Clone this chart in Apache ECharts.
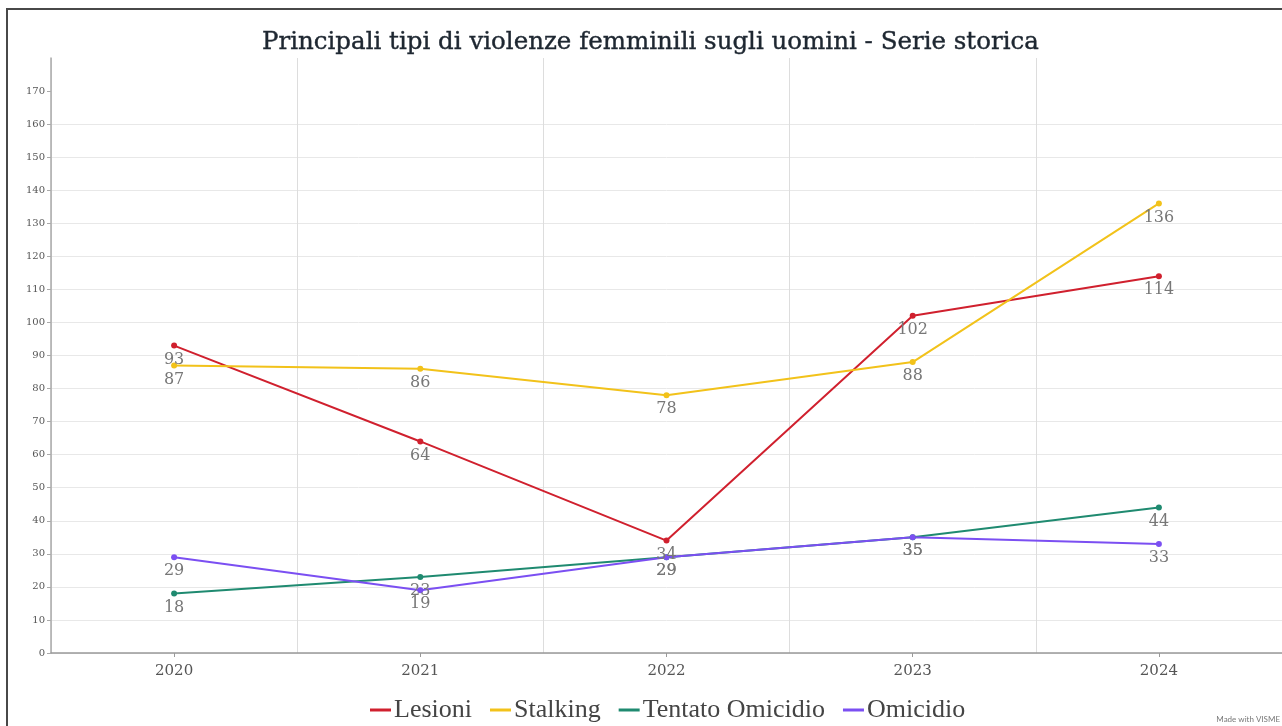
<!DOCTYPE html>
<html>
<head>
<meta charset="utf-8">
<title>Principali tipi di violenze femminili sugli uomini</title>
<script src="https://cdn.jsdelivr.net/npm/echarts@6/dist/echarts.min.js"></script>
<style>
  html, body { margin: 0; padding: 0; background: #fff; }
  #container { width: 1282px; height: 726px; }
</style>
</head>
<body>
<div id="container"></div>
<script>
var anni = ['2020', '2021', '2022', '2023', '2024'];
var lesioni = [93, 64, 34, 102, 114];
var stalking = [87, 86, 78, 88, 136];
var tentatoOmicidio = [18, 23, 29, 35, 44];
var omicidio = [29, 19, 29, 35, 33];
var yTicks = [0, 10, 20, 30, 40, 50, 60, 70, 80, 90, 100, 110, 120, 130, 140, 150, 160, 170];

var serif = '"DejaVu Serif", "Liberation Serif", serif';

var myChart = echarts.init(document.getElementById('container'));

function serie(nome, dati, colore) {
    return {
        name: nome,
        type: 'line',
        data: dati,
        symbol: 'circle',
        symbolSize: 6,
        lineStyle: { width: 2, color: colore },
        itemStyle: { color: colore },
        label: {
            show: true,
            position: 'bottom',
            distance: 3,
            color: '#777',
            fontFamily: serif,
            fontSize: 16
        }
    };
}

myChart.setOption({
    animation: false,
    title: {
        text: 'Principali tipi di violenze femminili sugli uomini - Serie storica',
        left: 257,
        top: 25,
        textStyle: { fontFamily: serif, fontSize: 24.5, fontWeight: 'normal', color: '#1e2731',
            textBorderColor: '#1e2731', textBorderWidth: 0.4 }
    },
    legend: {
        bottom: -2,
        left: 365,
        icon: 'rect',
        itemWidth: 21,
        itemHeight: 3,
        itemGap: 18,
        textStyle: { fontFamily: '"Liberation Serif", serif', fontSize: 26, color: '#444', padding: [0, 0, 0, -2] },
        data: ['Lesioni', 'Stalking', 'Tentato Omicidio', 'Omicidio']
    },
    grid: { left: 51, right: -1, top: 58, bottom: 73 },
    xAxis: {
        type: 'category',
        data: anni,
        boundaryGap: true,
        axisLine: { lineStyle: { color: '#999', width: 1.5 } },
        axisTick: { show: true, alignWithLabel: true, length: 4, lineStyle: { color: '#999' } },
        axisLabel: { color: '#555', fontFamily: serif, fontSize: 15, margin: 11 },
        splitLine: { show: true, lineStyle: { color: '#ddd' } }
    },
    yAxis: {
        type: 'value',
        min: 0,
        max: 180,
        interval: 10,
        axisLine: { show: true, lineStyle: { color: '#aaa', width: 1.5 } },
        axisTick: { show: true, length: 4, customValues: yTicks, lineStyle: { color: '#aaa' } },
        axisLabel: {
            color: '#555', fontFamily: serif, fontSize: 10, margin: 6,
            customValues: yTicks
        },
        splitLine: { show: true, showMaxLine: false, lineStyle: { color: '#e8e8e8' } }
    },
    graphic: [
        {
            type: 'rect',
            shape: { x: 7, y: 9, width: 1400, height: 800 },
            style: { fill: 'none', stroke: '#484848', lineWidth: 2 },
            silent: true
        },
        {
            type: 'text',
            right: 2,
            bottom: 3,
            style: { text: 'Made with VISME', fill: '#777', font: '8px "Lato", sans-serif' }
        }
    ],
    series: [
        serie('Lesioni', lesioni, '#d0202e'),
        serie('Stalking', stalking, '#f2c21a'),
        serie('Tentato Omicidio', tentatoOmicidio, '#1f8a70'),
        serie('Omicidio', omicidio, '#7b4ff2')
    ]
});
</script>
</body>
</html>
